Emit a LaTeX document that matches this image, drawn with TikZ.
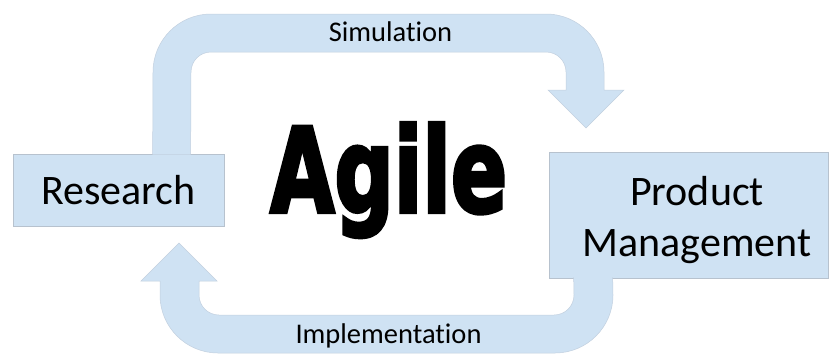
\documentclass[tikz,border=0pt]{standalone}
\usepackage{fontspec}
\setmainfont[Ligatures={NoCommon}]{Carlito}
\newfontfamily\agilefont[FakeBold=3.5]{DejaVu Sans Bold}
\usetikzlibrary{calc}
\definecolor{bandblue}{RGB}{207,226,243}
\definecolor{boxedge}{RGB}{183,194,206}

\begin{document}
\begin{tikzpicture}[x=1pt,y=1pt,
  box/.style={fill=bandblue, draw=boxedge, line width=0.7pt, inner sep=0pt},
  band/.style={fill=bandblue, draw=boxedge!55!bandblue, line width=0.5pt},
  lbl/.style={font=\fontsize{28.5}{34}\selectfont, inner sep=0pt, anchor=base},
  big/.style={font=\fontsize{42}{51}\selectfont, inner sep=0pt}]
\useasboundingbox (0,0) rectangle (832,-354);

% the two process boxes
\node[box, big, minimum width=211pt, minimum height=72pt] (research) at (118.5,-190) {Research};
\node[box, minimum width=279pt, minimum height=126pt] (pmbox) at (688.5,-215) {};
\node[big, align=center] (pmtext) at (697,-220) {Product\\Management};

% ends of the curved block arrows where they meet the boxes
\coordinate (simA) at ([xshift=140pt,yshift=-1pt]research.north west);
\coordinate (simB) at ([xshift=178pt,yshift=-1pt]research.north west);
\coordinate (impA) at ([xshift=25pt,yshift=1pt]pmbox.south west);
\coordinate (impB) at ([xshift=64pt,yshift=1pt]pmbox.south west);

% Simulation: Research -> Product Management
\path[band] (simA) -- (153,-72) arc[start angle=180,end angle=90,radius=58pt]
  -- (546,-14) arc[start angle=90,end angle=0,radius=58pt]
  -- (604,-90) -- (624,-90) -- (586,-128) -- (548,-90) -- (566,-90)
  -- (566,-72) arc[start angle=0,end angle=90,radius=20pt]
  -- (211,-52) arc[start angle=90,end angle=180,radius=20pt]
  -- (simB);

% Implementation: Product Management -> Research
\path[band] (impA) -- (574,-295) arc[start angle=0,end angle=-90,radius=20pt]
  -- (219,-315) arc[start angle=-90,end angle=-180,radius=20pt]
  -- (199,-281) -- (217,-281) -- (179,-243) -- (141,-281) -- (160,-281)
  -- (160,-295) arc[start angle=180,end angle=270,radius=58pt]
  -- (555,-353) arc[start angle=270,end angle=360,radius=58pt]
  -- (impB);

\node[lbl] (sim) at (390.5,-41) {Simulation};
\node[lbl] (imp) at (388.5,-343) {Implementation};

\node[anchor=base west, inner sep=0pt] (agile) at (270,-212)
  {\resizebox{237pt}{89pt}{\agilefont Agile}};
\end{tikzpicture}
\end{document}
